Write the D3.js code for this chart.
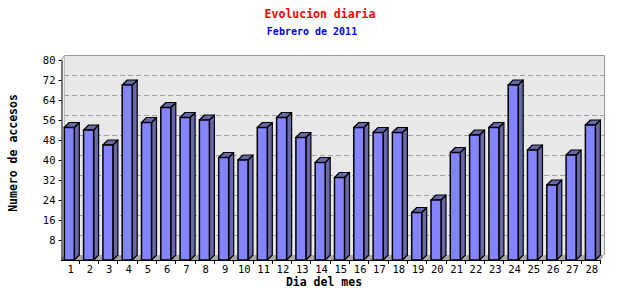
<!DOCTYPE html>
<html><head><meta charset="utf-8">
<script src="https://cdn.jsdelivr.net/npm/d3@7"></script>
<style>body{margin:0;background:#fff}svg{display:block}</style>
</head><body>
<svg id="c" width="640" height="300"></svg>
<script>
const days = ["1","2","3","4","5","6","7","8","9","10","11","12","13","14","15","16","17","18","19","20","21","22","23","24","25","26","27","28"];
const visits = [53,52,46,70,55,61,57,56,41,40,53,57,49,39,33,53,51,51,19,24,43,50,53,70,44,30,42,54];
const yTicks = [8,16,24,32,40,48,56,64,72,80];
const title = "Evolucion diaria";
const subtitle = "Febrero de 2011";
const xTitle = "Dia del mes";
const yTitle = "Numero de accesos";

const svg = d3.select("#c");
const mono = "'DejaVu Sans Mono', monospace";
const x = d3.scaleBand().domain(days).range([60, 600.4]);
const y = d3.scaleLinear().domain([0, 80]).range([260, 60]);
const wdx = 3, wdy = -5;   // wall depth
const bdx = 5, bdy = -5;   // bar depth
const axX = 61;
const right = 601;

// back plane
svg.append("rect").attr("x", axX + wdx).attr("y", y(80) + wdy)
  .attr("width", right + wdx - (axX + wdx)).attr("height", y(0) - y(80))
  .attr("fill", "#e8e8e8");
// left wall
svg.append("path").attr("d", `M${axX},${y(80)}L${axX+wdx},${y(80)+wdy}L${axX+wdx},${y(0)+wdy}L${axX},${y(0)}Z`)
  .attr("fill", "#f0f0f0");
// floor
svg.append("path").attr("d", `M${axX},${y(0)}L${axX+wdx},${y(0)+wdy}L${right+wdx},${y(0)+wdy}L${right},${y(0)}Z`)
  .attr("fill", "#a8a8a8");
// gridlines
svg.append("g").selectAll("line").data(yTicks.filter(v => v < 80)).join("line")
  .attr("x1", axX + wdx).attr("x2", right + wdx)
  .attr("y1", d => y(d) + wdy + 0.5).attr("y2", d => y(d) + wdy + 0.5)
  .attr("stroke", "#a0a0a0").attr("stroke-dasharray", "5,3");
// plane borders
svg.append("path").attr("d", `M${axX},${y(80)+0.5}L${axX+wdx+0.5},${y(80)+wdy+0.5}L${right+wdx+0.5},${y(80)+wdy+0.5}L${right+wdx+0.5},${y(0)+wdy}`)
  .attr("fill", "none").attr("stroke", "#999");
svg.append("line").attr("x1", axX+wdx+0.5).attr("x2", axX+wdx+0.5).attr("y1", y(80)+wdy).attr("y2", y(0)+wdy)
  .attr("stroke", "#bbb");

// bars
const bw = 10;
const bars = svg.append("g").selectAll("g").data(days.map((d, i) => ({d, v: visits[i]}))).join("g");
bars.each(function(o) {
  const g = d3.select(this);
  const x0 = x(o.d) + 4.3, x1 = x0 + bw, yt = y(o.v), yb = y(0);
  g.append("path").attr("d", `M${x1},${yt}L${x1+bdx},${yt+bdy}L${x1+bdx},${yb+bdy}L${x1},${yb}Z`)
    .attr("fill", "#6868a8").attr("stroke", "#000").attr("stroke-width", 1.2).attr("stroke-linejoin", "round");
  g.append("path").attr("d", `M${x0},${yt}L${x0+bdx},${yt+bdy}L${x1+bdx},${yt+bdy}L${x1},${yt}Z`)
    .attr("fill", "#6868a8").attr("stroke", "#000").attr("stroke-width", 1.2).attr("stroke-linejoin", "round");
  g.append("rect").attr("x", x0).attr("y", yt).attr("width", bw).attr("height", yb - yt)
    .attr("fill", "#8484ff").attr("stroke", "#000").attr("stroke-width", 1.5);
});

// axes
const yAxis = d3.axisLeft(y).tickValues(yTicks).tickSize(3).tickSizeOuter(0);
const gy = svg.append("g").attr("transform", `translate(${axX + 0.5},0)`).call(yAxis);
gy.select(".domain").attr("stroke", "#000");
gy.selectAll("text").attr("font-family", mono).attr("font-size", "10.5px").attr("fill", "#000").attr("x", -6);

const xAxis = d3.axisBottom(x).tickSize(0).tickSizeOuter(0);
const gx = svg.append("g").attr("transform", `translate(0,${y(0) + 0.5})`).call(xAxis);
gx.select(".domain").attr("stroke", "#000").attr("d", `M${axX},0H${right}`);
gx.selectAll("text").attr("font-family", mono).attr("font-size", "10.5px").attr("fill", "#000").attr("dy", "0.95em").attr("dx", 1);
// boundary ticks
svg.append("g").selectAll("line").data(days.slice(1).concat(["_end"])).join("line")
  .attr("x1", d => d === "_end" ? x.range()[1] : x(d)).attr("x2", d => d === "_end" ? x.range()[1] : x(d))
  .attr("y1", y(0)).attr("y2", y(0) + 4).attr("stroke", "#000").attr("shape-rendering", "crispEdges");

// titles
svg.append("text").attr("x", 320).attr("y", 18).attr("text-anchor", "middle")
  .attr("font-family", mono).attr("font-weight", "bold").attr("font-size", "11.5px").attr("fill", "#ff0000").text(title);
svg.append("text").attr("x", 312).attr("y", 35).attr("text-anchor", "middle")
  .attr("font-family", mono).attr("font-weight", "bold").attr("font-size", "10px").attr("fill", "#0000ff").text(subtitle);
svg.append("text").attr("x", 324).attr("y", 286).attr("text-anchor", "middle")
  .attr("font-family", mono).attr("font-weight", "bold").attr("font-size", "11.5px").attr("fill", "#000").text(xTitle);
svg.append("text").attr("transform", "translate(17,153) rotate(-90)").attr("text-anchor", "middle")
  .attr("font-family", mono).attr("font-weight", "bold").attr("font-size", "11.5px").attr("fill", "#000").text(yTitle);
</script>
</body></html>
